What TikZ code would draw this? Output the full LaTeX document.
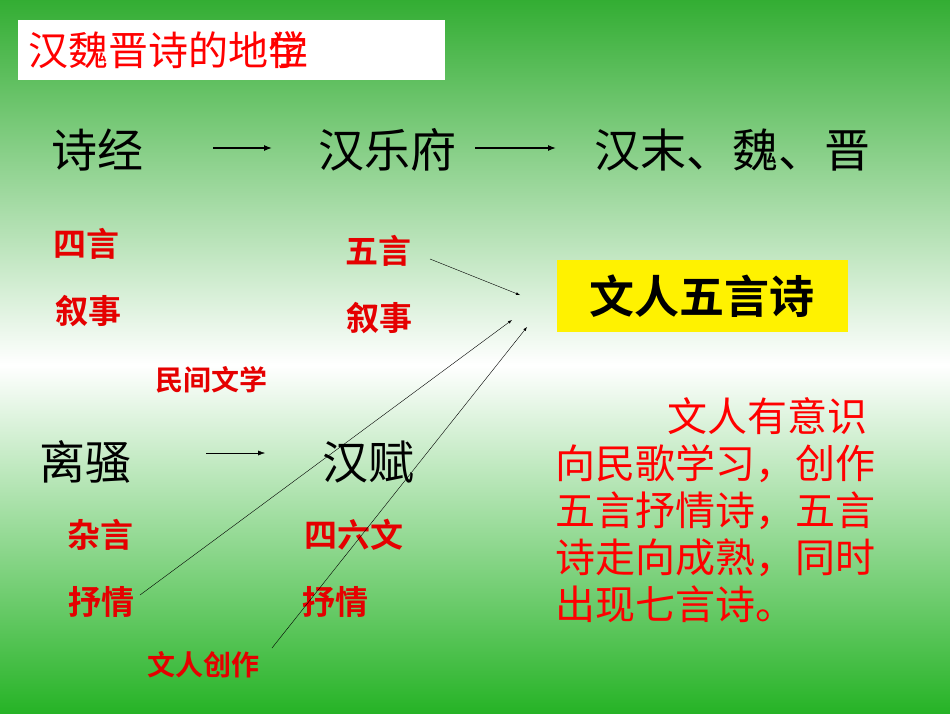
\documentclass[tikz,border=0pt]{standalone}
\usepackage{fontspec}
\usetikzlibrary{arrows.meta}
\newfontfamily\cjk{Noto Sans CJK SC}
\newfontfamily\cjkb{Noto Sans CJK SC Bold}
\begin{document}
\begin{tikzpicture}[x=1pt,y=-1pt,
  blk/.style={font=\cjk\fontsize{46}{50}\selectfont,text=black,inner sep=0},
  red/.style={font=\cjkb\fontsize{33}{36}\selectfont,text=red!90!black,inner sep=0},
  lnk/.style={-latex,thin,black}]
\useasboundingbox (0,0) rectangle (950,713);
\shade[top color=green!60!black!80!white,bottom color=white] (0,0) rectangle (950,365);
\shade[top color=white,bottom color=green!65!black!85!white] (0,365) rectangle (950,713);
\fill[white] (18,20) rectangle (445,80);
\node[font=\cjk\fontsize{40}{42}\selectfont,text=red,anchor=west,inner sep=0] (title) at (28,50) {汉魏晋诗的地位};
\node[font=\cjk\fontsize{40}{42}\selectfont,text=red,anchor=east,inner sep=0] (ovl) at (title.east) {学};
\node[blk] (sj) at (97,150) {诗经};
\node[blk] (yf) at (387,150) {汉乐府};
\node[blk] (hm) at (732,150) {汉末、魏、晋};
\coordinate (a1) at (213,148); \coordinate (a2) at (272,148);
\coordinate (b1) at (475,148); \coordinate (b2) at (556,148);
\draw[-{Latex[length=8pt,width=6pt]},line width=1.2pt] (a1) -- (a2);
\draw[-{Latex[length=8pt,width=6pt]},line width=1.2pt] (b1) -- (b2);
\node[blk] (ls) at (85,462) {离骚};
\node[blk] (hf) at (368,462) {汉赋};
\coordinate (c1) at (206,453); \coordinate (c2) at (265,453);
\draw[-{Latex[length=7pt,width=5pt]}] (c1) -- (c2);
\node[red] (r1) at (86,244) {四言};
\node[red] (r2) at (88,311) {叙事};
\node[red] (r3) at (378,251) {五言};
\node[red] (r4) at (379,318) {叙事};
\node[red,font=\cjkb\fontsize{28}{30}\selectfont] (mj) at (211,380) {民间文学};
\node[red] (r5) at (100,535) {杂言};
\node[red] (r6) at (101,602) {抒情};
\node[red] (r7) at (354,535) {四六文};
\node[red] (r8) at (335,602) {抒情};
\node[red,font=\cjkb\fontsize{28}{30}\selectfont] (wr) at (203,665) {文人创作};
\node[fill=yellow,minimum width=291,minimum height=72,inner sep=0,font=\cjkb\fontsize{45}{48}\selectfont] (wy) at (702,296) {文人五言诗};
\coordinate (e1) at (520,295); \coordinate (e2) at (512,320); \coordinate (e3) at (527,327);
\draw[lnk] (430,259) -- (e1);
\draw[lnk] (140,595) -- (e2);
\draw[lnk] (272,648) -- (e3);
\node[font=\cjk\fontsize{40}{47}\selectfont,text=red,align=left,anchor=north west,inner sep=0] (para) at (555,397)
 {\hspace*{2.8em}文人有意识\\向民歌学习，创作\\五言抒情诗，五言\\诗走向成熟，同时\\出现七言诗。};
\end{tikzpicture}
\end{document}
